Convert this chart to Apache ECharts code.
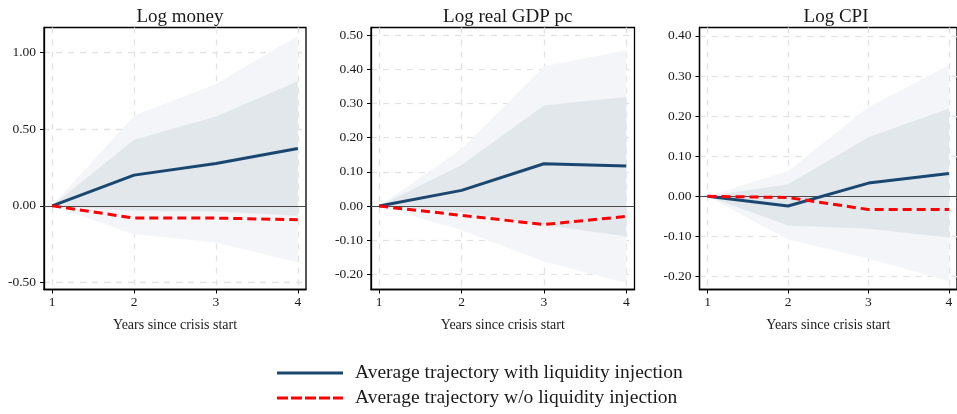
<!DOCTYPE html>
<html><head><meta charset="utf-8">
<script src="https://cdn.jsdelivr.net/npm/echarts@6/dist/echarts.min.js"></script>
<style>html,body{margin:0;padding:0;background:#fff}#c{width:957px;height:414px}</style>
</head><body><div id="c"></div>
<script>
// ---------- data ----------
const years = [1, 2, 3, 4];
const xTicks = [1, 2, 3, 4];
const panelTitles = ['Log money', 'Log real GDP pc', 'Log CPI'];
const xAxisTitle = 'Years since crisis start';
const legendNames = ['Average trajectory with liquidity injection', 'Average trajectory w/o liquidity injection'];

// Log money
const moneyWith     = [0, 0.200, 0.276, 0.374];
const moneyWithout  = [0, -0.080, -0.080, -0.091];
const moneyInnerLo  = [0, -0.033, -0.037, -0.065];
const moneyInnerHi  = [0, 0.430, 0.583, 0.813];
const moneyOuterLo  = [0, -0.185, -0.240, -0.370];
const moneyOuterHi  = [0, 0.587, 0.794, 1.109];
const moneyTicks    = [-0.5, 0, 0.5, 1.0];

// Log real GDP pc
const gdpWith       = [0, 0.046, 0.124, 0.117];
const gdpWithout    = [0, -0.027, -0.054, -0.030];
const gdpInnerLo    = [0, -0.018, -0.055, -0.088];
const gdpInnerHi    = [0, 0.120, 0.294, 0.320];
const gdpOuterLo    = [0, -0.071, -0.162, -0.225];
const gdpOuterHi    = [0, 0.167, 0.409, 0.456];
const gdpTicks      = [-0.2, -0.1, 0, 0.1, 0.2, 0.3, 0.4, 0.5];

// Log CPI
const cpiWith       = [0, -0.024, 0.033, 0.057];
const cpiWithout    = [0, -0.003, -0.033, -0.033];
const cpiInnerLo    = [0, -0.073, -0.081, -0.103];
const cpiInnerHi    = [0, 0.030, 0.147, 0.219];
const cpiOuterLo    = [0, -0.108, -0.155, -0.212];
const cpiOuterHi    = [0, 0.063, 0.223, 0.327];
const cpiTicks      = [-0.2, -0.1, 0, 0.1, 0.2, 0.3, 0.4];

// ---------- layout / style ----------
const FONT = 'Liberation Serif';
const TXT = '#1a1a1a';
const BLUE = '#1a476f';
const RED = '#ff0000';
const OUTER = '#f3f5f8';
const INNER = '#e2e7ec';
const GRID_LINE = '#e3e3e3';

const panels = [
  { title: panelTitles[0], w: moneyWith, wo: moneyWithout, il: moneyInnerLo, ih: moneyInnerHi, ol: moneyOuterLo, oh: moneyOuterHi, ticks: moneyTicks, ymin: -0.546, ymax: 1.163, left: 44, width: 262 },
  { title: panelTitles[1], w: gdpWith, wo: gdpWithout, il: gdpInnerLo, ih: gdpInnerHi, ol: gdpOuterLo, oh: gdpOuterHi, ticks: gdpTicks, ymin: -0.244, ymax: 0.5225, left: 371, width: 263.5 },
  { title: panelTitles[2], w: cpiWith, wo: cpiWithout, il: cpiInnerLo, ih: cpiInnerHi, ol: cpiOuterLo, oh: cpiOuterHi, ticks: cpiTicks, ymin: -0.2324, ymax: 0.421, left: 699.5, width: 263 }
];
const TOP = 27.5, HEIGHT = 262;

const pairs = (ys) => years.map((x, i) => [x, ys[i]]);

function bandSeries(i, lo, hi, color, z) {
  return {
    type: 'custom', xAxisIndex: i, yAxisIndex: i, silent: true, z: z, clip: true,
    data: years.map((x, k) => [x, lo[k], hi[k]]),
    encode: { x: 0, y: [1, 2] },
    renderItem: function (params, api) {
      if (params.dataIndex !== 0) return { type: 'group', children: [] };
      const upper = years.map((x, k) => api.coord([x, hi[k]]));
      const lower = years.map((x, k) => api.coord([x, lo[k]])).reverse();
      return { type: 'polygon', shape: { points: upper.concat(lower) }, style: { fill: color, stroke: null } };
    }
  };
}

const DASH_ICON = 'path://M0,0h11v3h-11z M14,0h11v3h-11z M28,0h11v3h-11z M42,0h11v3h-11z M56,0h10v3h-10z';
const SOLID_ICON = 'path://M0,0h66v3h-66z';

function legendBox(name, icon, top) {
  return {
    orient: 'vertical', left: 277, top: top, padding: 0,
    itemWidth: 66, itemHeight: 3, itemGap: 0,
    data: [{ name: name, icon: icon }],
    selectedMode: false,
    textStyle: { fontFamily: FONT, fontSize: 19.5, lineHeight: 20, color: TXT, padding: [0, 0, 0, 7] }
  };
}

const option = {
  animation: false,
  backgroundColor: '#fff',
  textStyle: { fontFamily: FONT, color: TXT },
  title: panels.map(p => ({
    text: p.title,
    left: p.left + p.width / 2,
    top: 3,
    textAlign: 'center',
    textStyle: { fontFamily: FONT, fontSize: 19, fontWeight: 'normal', color: TXT }
  })),
  legend: [
    legendBox(legendNames[0], SOLID_ICON, 363),
    legendBox(legendNames[1], DASH_ICON, 388)
  ],
  grid: panels.map(p => ({
    left: p.left, top: TOP, width: p.width, height: HEIGHT,
    show: true, borderColor: '#000', borderWidth: 1.3, backgroundColor: 'transparent',
    containLabel: false
  })),
  xAxis: panels.map((p, i) => ({
    type: 'value', gridIndex: i, min: 0.9, max: 4.1,
    name: xAxisTitle, nameLocation: 'middle', nameGap: 29,
    nameTextStyle: { fontFamily: FONT, fontSize: 14, color: TXT },
    axisLine: { show: true, onZero: false, lineStyle: { color: '#000', width: 1.3 } },
    axisTick: { show: true, length: 4, customValues: xTicks, lineStyle: { color: '#000', width: 1 } },
    axisLabel: { customValues: xTicks, margin: 6, fontFamily: FONT, fontSize: 13.5, color: TXT },
    splitLine: { show: true, lineStyle: { color: GRID_LINE, width: 1.3, type: [6, 6] } }
  })),
  yAxis: panels.map((p, i) => ({
    type: 'value', gridIndex: i, min: p.ymin, max: p.ymax,
    axisLine: { show: true, onZero: false, lineStyle: { color: '#000', width: 1.3 } },
    axisTick: { show: true, length: 4, customValues: p.ticks, lineStyle: { color: '#000', width: 1 } },
    axisLabel: { customValues: p.ticks, margin: 8, fontFamily: FONT, fontSize: 13.5, color: TXT,
      formatter: v => v.toFixed(2) },
    splitLine: { show: true, lineStyle: { color: GRID_LINE, width: 1.3, type: [6, 6] } }
  })),
  series: []
};

panels.forEach((p, i) => {
  option.series.push(
    bandSeries(i, p.ol, p.oh, OUTER, 1),
    bandSeries(i, p.il, p.ih, INNER, 2),
    { type: 'line', name: legendNames[0], xAxisIndex: i, yAxisIndex: i, symbol: 'none', data: pairs(p.w),
      lineStyle: { color: BLUE, width: 3 }, itemStyle: { color: BLUE }, z: 5,
      markLine: { silent: true, symbol: 'none', label: { show: false }, lineStyle: { color: '#4a4a4a', width: 1, type: 'solid' }, data: [{ yAxis: 0 }], z: 3 } },
    { type: 'line', name: legendNames[1], xAxisIndex: i, yAxisIndex: i, symbol: 'none', data: pairs(p.wo),
      lineStyle: { color: RED, width: 3, type: [9, 5] }, itemStyle: { color: RED }, z: 6 }
  );
});

const chart = echarts.init(document.getElementById('c'), null, { renderer: 'canvas' });
chart.setOption(option);
</script>
</body></html>
